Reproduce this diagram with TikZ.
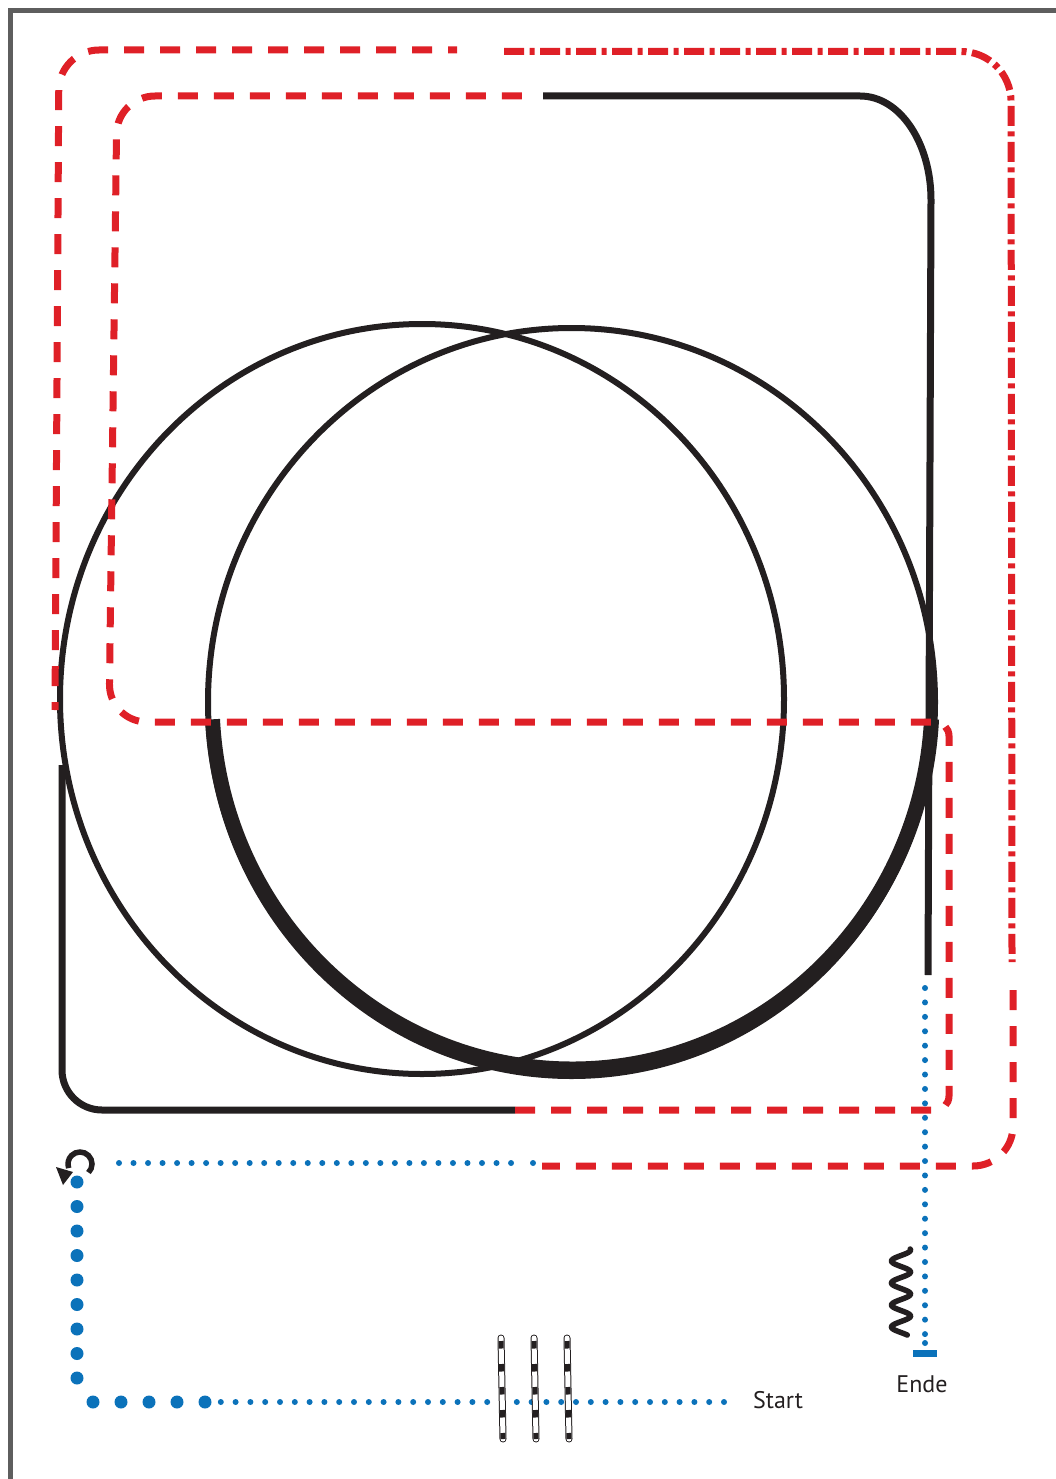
\documentclass[tikz,border=0pt]{standalone}
\usepackage{fontspec}
\setsansfont{PT Sans}
\usetikzlibrary{arrows.meta}

\definecolor{routered}{HTML}{DF2027}
\definecolor{routeblue}{HTML}{0B72BA}
\definecolor{inkblack}{HTML}{231F20}
\definecolor{framegray}{HTML}{5E5E5E}

\begin{document}
\begin{tikzpicture}[
  x=1pt, y=-1pt,
  track/.style={draw=inkblack, line width=7pt, line join=round},
  ring/.style={draw=inkblack, line width=6pt},
  dashtrack/.style={draw=routered, line width=7pt, dash pattern=on 20pt off 16pt},
  dashdottrack/.style={draw=routered, line width=7pt, dash pattern=on 20pt off 5.5pt on 5pt off 5.5pt},
  smalldots/.style={draw=routeblue, line width=6pt, line cap=round, dash pattern=on 0pt off 14.6pt},
  bigdots/.style={draw=routeblue, line width=13pt, line cap=round, dash pattern=on 0pt off 24.5pt},
  barline/.style={draw=inkblack, line width=7pt, line cap=round,
    postaction={draw=white, line width=5pt},
    postaction={draw=inkblack, line width=5pt, line cap=butt, dash pattern=on 7.5pt off 15.5pt, dash phase=20pt}},
  routetext/.style={font=\sffamily\fontsize{24}{28}\selectfont, text=inkblack, inner sep=0pt},
]
\useasboundingbox (0,0) rectangle (1055,1479);

% page frame
\draw[framegray, line width=5pt] (10,1480) -- (10,10.5) -- (1056,10.5);

% the two rings
\coordinate (lc) at (422,699);
\coordinate (rc) at (571.5,702);
\draw[ring] (lc) ellipse [x radius=362, y radius=375];
\draw[ring] (rc) ellipse [x radius=363.5, y radius=374];
\draw[inkblack, line width=15pt] (572,700) ++(3:360 and 369) arc[start angle=3, end angle=177, x radius=360, y radius=369];

% black track parts
\draw[track] (543,96) -- (860,96) .. controls (900,96) and (931,143) .. (931,200) -- (928,975);
\draw[track, rounded corners=40pt] (62,765) -- (62,1110) -- (515,1110);

% inner red loop
\draw[dashtrack] (515,1110) [rounded corners=14pt] -- (949,1110) -- (949,722) [rounded corners=38pt] -- (109,722) -- (117,96) -- (522,96);

% outer red loop
\draw[dashtrack, dash phase=11pt, rounded corners=40pt] (457,50) -- (59,50) -- (55,710);
\draw[dashdottrack, rounded corners=50pt] (504,51.5) -- (1011,51.5) -- (1012,962);
\draw[dashtrack, rounded corners=40pt] (1013,990) -- (1013,1166) -- (542,1166);

% blue route
\draw[smalldots, dash pattern=on 0pt off 14.8pt] (724,1402) -- (219.5,1402);
\draw[bigdots, dash pattern=on 0pt off 28pt] (205,1402) -- (92.5,1402);
\draw[bigdots] (77,1378) -- (77,1181.5);
\draw[smalldots, dash pattern=on 0pt off 14.52pt] (119,1163) -- (511.5,1163);
\fill[routeblue] (533,1163) circle (3);
\draw[smalldots, dash pattern=on 0pt off 14.42pt] (925,988) -- (925,1334.5);
\fill[routeblue] (925,1343) circle (3);
\fill[routeblue] (913,1350) rectangle (937,1357);

% turn-around sign
\draw[inkblack, line width=5.5pt] (80,1164) ++(45:12) arc[start angle=45, end angle=-200, radius=12];
\fill[inkblack] (56,1167) -- (73,1172) -- (63,1185) -- cycle;

% crossing bars
\draw[barline] (501,1338) -- (503,1439);
\draw[barline] (534,1338) -- (536,1439);
\draw[barline] (567,1338) -- (569,1439);

% spring
\draw[inkblack, line width=5.5pt, line cap=round] plot[domain=-1:85, samples=120] ({901+9.5*cos(16.3636*\x)}, {1250+\x});

% labels
\node[routetext, anchor=west] (start) at (753,1400) {Start};
\node[routetext] (ende) at (922,1384) {Ende};
\end{tikzpicture}
\end{document}
